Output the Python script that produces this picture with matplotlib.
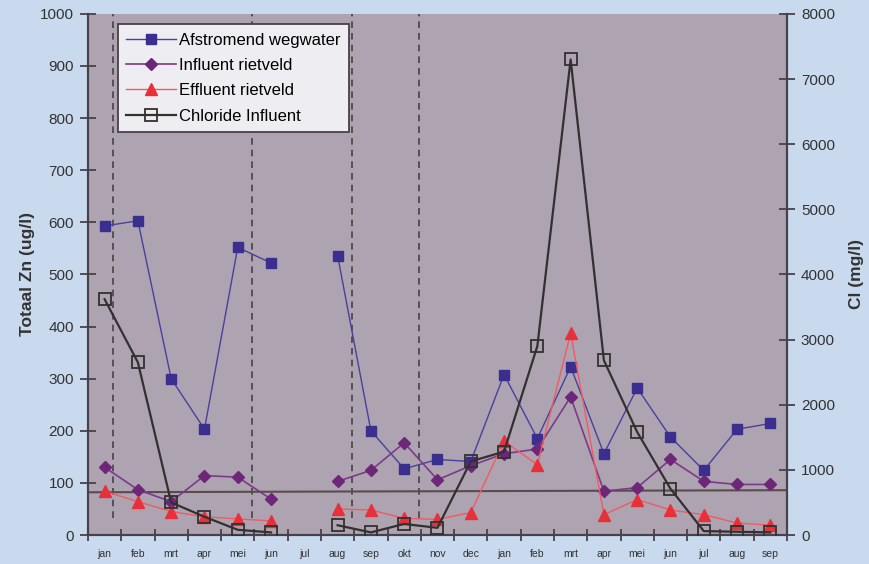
import matplotlib
matplotlib.use("Agg")
import matplotlib.pyplot as plt
import numpy as np

plt.rcParams['font.family'] = ['Liberation Sans', 'DejaVu Sans']

# maanden (twee seizoenen)
maanden = ['jan', 'feb', 'mrt', 'apr', 'mei', 'jun', 'jul', 'aug', 'sep', 'okt', 'nov', 'dec',
           'jan', 'feb', 'mrt', 'apr', 'mei', 'jun', 'jul', 'aug', 'sep']

# zink (ug/l), None = geen meting
afstromend = [593, 603, 300, 203, 552, 522, None, 536, 200, 127, 145, 141,
              308, 185, 323, 156, 282, 188, 124, 203, 214]
influent = [130, 87, 64, 114, 111, 69, None, 103, 124, 177, 106, 133,
            156, 165, 265, 84, 91, 145, 103, 97, 97]
effluent = [84, 64, 45, 35, 31, 27, None, 50, 48, 32, 30, 43,
            180, 135, 387, 39, 68, 48, 39, 23, 19]
# chloride (mg/l)
chloride = [3620, 2650, 500, 280, 80, 40, None, 150, 40, 170, 110, 1130,
            1280, 2900, 7300, 2680, 1580, 710, 60, 50, 40]

# norm lijn en scheidingen tussen perioden
norm_zn = [82, 86]
scheidingen = [0.25, 4.42, 7.43, 9.44]

def arr(v):
    return np.array([np.nan if a is None else a for a in v], dtype=float)

x = np.arange(len(maanden))

fig = plt.figure(figsize=(8.7, 5.64), dpi=100, facecolor='#c9d9ee')
ax = fig.add_axes([0.1011, 0.0514, 0.8035, 0.924])
ax.set_facecolor('#aea4b1')
ax2 = ax.twinx()

for s in scheidingen:
    ax.plot([s, s], [33, 1000], color='#4a4048', ls=(0, (4, 3)), lw=1.2, zorder=1)
ax.plot([-0.5, len(maanden) - 0.5], norm_zn, color='#5b4b4c', lw=1.5, zorder=2)

l1, = ax.plot(x, arr(afstromend), color='#4a3f9c', lw=1, marker='s', ms=7,
              mfc='#3a2f8e', mec='#3a2f8e', label='Afstromend wegwater', zorder=4)
l2, = ax.plot(x, arr(influent), color='#7b3a8a', lw=1.2, marker='D', ms=6,
              mfc='#6e2679', mec='#6e2679', label='Influent rietveld', zorder=4)
l3, = ax.plot(x, arr(effluent), color='#f05a62', lw=1, marker='^', ms=8,
              mfc='#e8303a', mec='#e8303a', label='Effluent rietveld', zorder=4)
l4, = ax2.plot(x, arr(chloride), color='#333030', lw=1.6, marker='s', ms=9,
               mfc='none', mec='#333030', mew=1.3, label='Chloride Influent', zorder=5)

ax.set_xlim(-0.5, len(maanden) - 0.5)
ax.set_ylim(0, 1000)
ax2.set_ylim(0, 8000)

ax.set_xticks(np.arange(len(maanden) + 1) - 0.5)
ax.set_xticklabels([])
ax.set_xticks(x, minor=True)
ax.set_xticklabels(maanden, minor=True, fontsize=7.5, color='#333333')
ax.tick_params(axis='x', which='major', direction='inout', length=9, width=1.3, color='#4a4048')
ax.tick_params(axis='x', which='minor', length=0, pad=10)

ax.set_yticks(np.arange(0, 1001, 100))
ax.tick_params(axis='y', direction='inout', length=12, width=1.3, color='#4a4048',
               labelsize=11, labelcolor='#333333', pad=4)
ax2.set_yticks(np.arange(0, 8001, 1000))
ax2.tick_params(axis='y', direction='inout', length=12, width=1.3, color='#4a4048',
                labelsize=11, labelcolor='#333333', pad=4)

for a in (ax, ax2):
    a.spines['top'].set_visible(False)
    for k in ('left', 'right', 'bottom'):
        a.spines[k].set_color('#4a4048')
        a.spines[k].set_linewidth(1.5)
ax2.patch.set_visible(False)

ax.set_ylabel('Totaal Zn (ug/l)', fontsize=12.5, fontweight='bold', color='#333333', labelpad=4)
ax2.set_ylabel('Cl (mg/l)', fontsize=12.5, fontweight='bold', color='#333333', labelpad=10)

leg = ax2.legend(handles=[l1, l2, l3, l4], loc='upper left', bbox_to_anchor=(0.031, 0.996),
                 fontsize=12, frameon=True, fancybox=False, handlelength=3.0,
                 borderpad=0.5, labelspacing=0.62, handletextpad=0.15)
leg.get_frame().set_facecolor('#eeedf2')
leg.get_frame().set_edgecolor('#4a4048')
leg.get_frame().set_linewidth(1.3)
leg.get_frame().set_alpha(1)
leg.set_zorder(10)

fig.text(0.535, 1.012, 'Zink en chloride', ha='center', va='center',
         fontsize=11, fontweight='bold', color='#333333')

fig.savefig('out.png', dpi=100, facecolor=fig.get_facecolor())
